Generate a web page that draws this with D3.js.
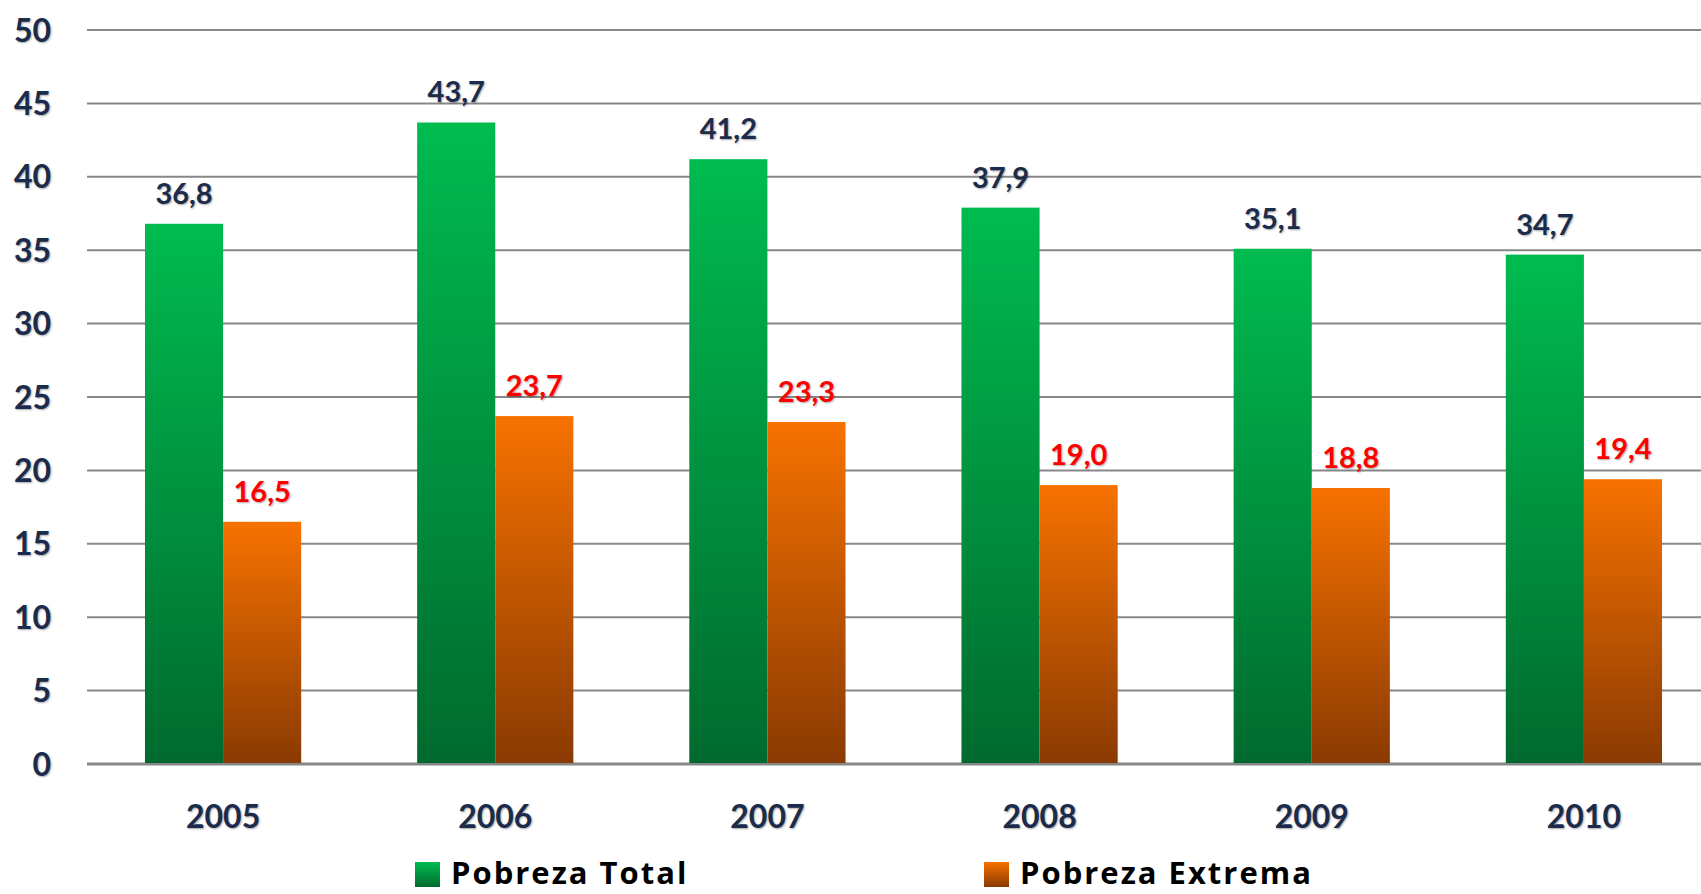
<!DOCTYPE html>
<html>
<head>
<meta charset="utf-8">
<script src="https://cdn.jsdelivr.net/npm/d3@7"></script>
<style>
  body { margin: 0; background: #fff; }
  text { font-family: Lato, "Open Sans", sans-serif; font-weight: 700; }
  .shadow { text-shadow: 1px 1px 2px rgba(0,0,0,0.35); }
  .legend-text { font-family: "Open Sans", Lato, sans-serif; letter-spacing: 2px; }
</style>
</head>
<body>
<main></main>
<script>
// data
var years = ["2005", "2006", "2007", "2008", "2009", "2010"];
var pobrezaTotal = [36.8, 43.7, 41.2, 37.9, 35.1, 34.7];
var pobrezaExtrema = [16.5, 23.7, 23.3, 19.0, 18.8, 19.4];
var seriesNames = ["Pobreza Total", "Pobreza Extrema"];
var yTicks = [0, 5, 10, 15, 20, 25, 30, 35, 40, 45, 50];

var width = 1701, height = 894;
var plotLeft = 87, plotRight = 1720, plotTop = 30, plotBottom = 764;

var svg = d3.select("main")
  .append("svg")
  .attr("width", width)
  .attr("height", height);

//gradients for the bars
var defs = svg.append("defs");
function addGradient(id, c1, c2) {
  var g = defs.append("linearGradient")
    .attr("id", id)
    .attr("x1", 0).attr("y1", 0)
    .attr("x2", 0).attr("y2", 1);
  g.append("stop").attr("offset", "0%").attr("stop-color", c1);
  g.append("stop").attr("offset", "100%").attr("stop-color", c2);
}
addGradient("gGreen", "#00bb50", "#006a2e");
addGradient("gOrange", "#f77200", "#8a3a02");

var x = d3.scaleBand()
  .domain(years)
  .range([plotLeft, plotRight])
  .paddingInner(0.426)
  .paddingOuter(0.213);

var x1 = d3.scaleBand()
  .domain(seriesNames)
  .range([0, x.bandwidth()]);

var y = d3.scaleLinear()
  .domain([0, 50])
  .range([plotBottom, plotTop]);

//grid lines
svg.append("g")
  .selectAll("line")
  .data(yTicks)
  .enter()
  .append("line")
  .attr("x1", plotLeft)
  .attr("x2", width)
  .attr("y1", (d) => y(d))
  .attr("y2", (d) => y(d))
  .style("stroke", "#878787")
  .style("stroke-width", (d) => d === 0 ? 3 : 2);

//y axis labels
svg.append("g")
  .selectAll("text")
  .data(yTicks)
  .enter()
  .append("text")
  .attr("class", "shadow")
  .attr("x", 51)
  .attr("y", (d) => y(d))
  .attr("dy", "0.36em")
  .attr("text-anchor", "end")
  .attr("font-size", "32px")
  .attr("fill", "#1b2b4b")
  .text((d) => d);

var rows = years.map(function(yr, i) {
  return { year: yr, values: [
    { name: seriesNames[0], value: pobrezaTotal[i] },
    { name: seriesNames[1], value: pobrezaExtrema[i] }
  ]};
});

var groups = svg.append("g")
  .selectAll("g")
  .data(rows)
  .enter()
  .append("g")
  .attr("transform", (d) => "translate(" + x(d.year) + ",0)");

groups.selectAll("rect")
  .data((d) => d.values)
  .enter()
  .append("rect")
  .attr("x", (d) => x1(d.name))
  .attr("y", (d) => y(d.value))
  .attr("width", x1.bandwidth())
  .attr("height", (d) => y(0) - y(d.value) - 1)
  .style("fill", (d) => d.name === seriesNames[0] ? "url(#gGreen)" : "url(#gOrange)");

//value labels
groups.selectAll("text")
  .data((d) => d.values)
  .enter()
  .append("text")
  .attr("class", "shadow")
  .attr("x", (d) => x1(d.name) + x1.bandwidth() / 2)
  .attr("y", (d) => y(d.value) - 20)
  .attr("text-anchor", "middle")
  .attr("font-size", "29px")
  .attr("fill", (d) => d.name === seriesNames[0] ? "#1b2b4b" : "#ff0000")
  .text((d) => d3.format(".1f")(d.value).replace(".", ","));

//category labels
svg.append("g")
  .selectAll("text")
  .data(years)
  .enter()
  .append("text")
  .attr("class", "shadow")
  .attr("x", (d) => x(d) + x.bandwidth() / 2)
  .attr("y", 816)
  .attr("dy", "0.36em")
  .attr("text-anchor", "middle")
  .attr("font-size", "32px")
  .attr("fill", "#1b2b4b")
  .text((d) => d);

//legend
var legendX = [415, 984];
var legend = svg.append("g")
  .attr("id", "legend")
  .selectAll("g")
  .data(seriesNames)
  .enter()
  .append("g")
  .attr("transform", (d, i) => "translate(" + legendX[i] + ",862)");

legend.append("rect")
  .attr("width", 25)
  .attr("height", 25)
  .style("fill", (d, i) => i === 0 ? "url(#gGreen)" : "url(#gOrange)");

legend.append("text")
  .attr("class", "legend-text")
  .attr("x", 36)
  .attr("y", 22)
  .attr("font-size", "31px")
  .attr("fill", "#000")
  .text((d) => d);
</script>
</body>
</html>
